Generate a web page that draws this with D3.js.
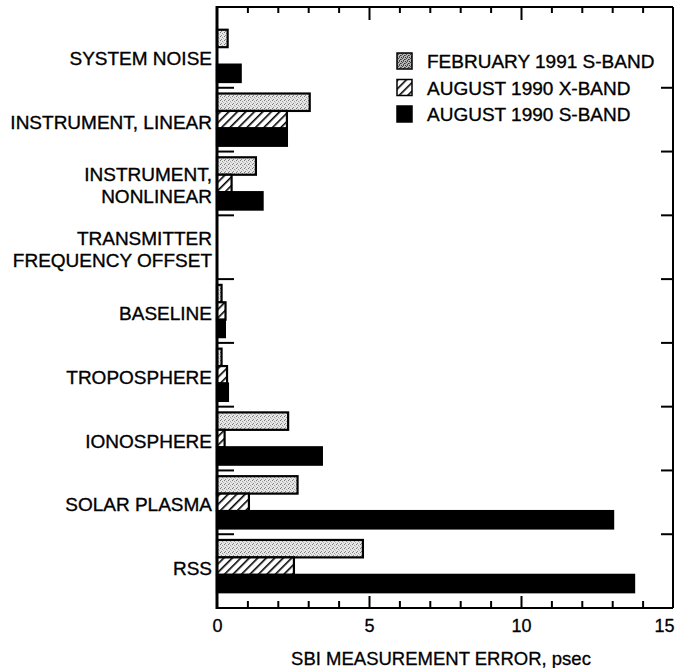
<!DOCTYPE html>
<html>
<head>
<meta charset="utf-8">
<script src="https://cdn.jsdelivr.net/npm/d3@7"></script>
<style>
  html, body { margin: 0; padding: 0; background: #fff; }
  svg { display: block; font-family: "Liberation Sans", Arial, Helvetica, sans-serif; }
</style>
</head>
<body>
<svg id="chart" width="676" height="668"></svg>
<script>
// Error sources (top to bottom) and their label lines
const categories = [
  "SYSTEM NOISE", "INSTRUMENT, LINEAR", "INSTRUMENT, NONLINEAR",
  "TRANSMITTER FREQUENCY OFFSET", "BASELINE", "TROPOSPHERE",
  "IONOSPHERE", "SOLAR PLASMA", "RSS"
];
const categoryLines = [
  ["SYSTEM NOISE"], ["INSTRUMENT, LINEAR"], ["INSTRUMENT,", "NONLINEAR"],
  ["TRANSMITTER", "FREQUENCY OFFSET"], ["BASELINE"], ["TROPOSPHERE"],
  ["IONOSPHERE"], ["SOLAR PLASMA"], ["RSS"]
];

// SBI measurement error, psec
const seriesNames = ["FEBRUARY 1991 S-BAND", "AUGUST 1990 X-BAND", "AUGUST 1990 S-BAND"];
const feb1991SBand = [0.35, 3.05, 1.28, 0, 0.15, 0.15, 2.34, 2.65, 4.80];
const aug1990XBand = [0, 2.30, 0.48, 0, 0.28, 0.33, 0.25, 1.05, 2.53];
const aug1990SBand = [0.78, 2.30, 1.50, 0, 0.26, 0.36, 3.45, 13.03, 13.72];

const xTickLabels = [0, 5, 10, 15];
const xTitle = "SBI MEASUREMENT ERROR, psec";

const seriesValues = [feb1991SBand, aug1990XBand, aug1990SBand];
const seriesKeys = ["feb", "augx", "augs"];

const svg = d3.select("#chart");
const frame = { left: 217, right: 673, top: 7, bottom: 608 };

const x = d3.scaleLinear().domain([0, 15]).range([frame.left, frame.right]);
const y = d3.scaleBand().domain(categories).range([24, 598])
  .paddingInner(0.18).paddingOuter(0.09);
const ySub = d3.scaleBand().domain(seriesKeys).range([0, y.bandwidth()]);

// Fill patterns: light stipple for bars, darker stipple for the key, diagonal hatch
const defs = svg.append("defs");
function stipplePattern(id, bg, dots) {
  const p = defs.append("pattern").attr("id", id)
    .attr("patternUnits", "userSpaceOnUse").attr("width", 4).attr("height", 4);
  p.append("rect").attr("width", 4).attr("height", 4).attr("fill", bg);
  dots.forEach(([dx, dy, c]) => p.append("rect").attr("x", dx).attr("y", dy)
    .attr("width", 1).attr("height", 1).attr("fill", c));
}
stipplePattern("stipple", "#e6e6e6", [[0, 0, "#777"], [2, 1, "#999"], [1, 3, "#888"], [3, 2, "#bbb"]]);
stipplePattern("stippleDark", "#b4b4b4", [[0, 0, "#333"], [2, 0, "#555"], [1, 1, "#444"], [3, 2, "#333"], [0, 2, "#666"], [2, 3, "#444"]]);

const hatch = defs.append("pattern").attr("id", "hatch")
  .attr("patternUnits", "userSpaceOnUse").attr("width", 6).attr("height", 6)
  .attr("patternTransform", "rotate(45)");
hatch.append("rect").attr("width", 6).attr("height", 6).attr("fill", "#fff");
hatch.append("line").attr("x1", 0).attr("y1", 0).attr("x2", 0).attr("y2", 6)
  .attr("stroke", "#000").attr("stroke-width", 3.2);

const fills = { feb: "url(#stipple)", augx: "url(#hatch)", augs: "#000" };
const legendFills = { feb: "url(#stippleDark)", augx: "url(#hatch)", augs: "#000" };

// Bars
const bars = [];
categories.forEach((c, i) => {
  seriesKeys.forEach((k, j) => {
    bars.push({ cat: c, key: k, value: seriesValues[j][i] });
  });
});

svg.append("g").selectAll("rect")
  .data(bars.filter(d => d.value > 0))
  .join("rect")
  .attr("x", x(0))
  .attr("y", d => y(d.cat) + ySub(d.key))
  .attr("width", d => x(d.value) - x(0))
  .attr("height", ySub.bandwidth())
  .attr("fill", d => fills[d.key])
  .attr("stroke", "#000")
  .attr("stroke-width", 2.2);

// Frame
const g = svg.append("g").attr("stroke", "#000").attr("fill", "none");
g.append("line").attr("x1", frame.left).attr("x2", frame.right)
  .attr("y1", frame.top).attr("y2", frame.top).attr("stroke-width", 2);
g.append("line").attr("x1", frame.left).attr("x2", frame.right)
  .attr("y1", frame.bottom).attr("y2", frame.bottom).attr("stroke-width", 2);
g.append("line").attr("x1", frame.right).attr("x2", frame.right)
  .attr("y1", frame.top).attr("y2", frame.bottom).attr("stroke-width", 2);
g.append("line").attr("x1", frame.left).attr("x2", frame.left)
  .attr("y1", frame.top - 1).attr("y2", frame.bottom + 1).attr("stroke-width", 3);

// Category separators: ticks on the left and right edges
const boundaries = categories.slice(1).map(c => y(c) - y.step() * y.paddingInner() / 2);
g.selectAll("line.lt").data(boundaries).join("line").attr("class", "lt")
  .attr("x1", frame.left).attr("x2", frame.left + 17)
  .attr("y1", d => d).attr("y2", d => d).attr("stroke-width", 2);
g.selectAll("line.rt").data(boundaries).join("line").attr("class", "rt")
  .attr("x1", frame.right - 12).attr("x2", frame.right)
  .attr("y1", d => d).attr("y2", d => d).attr("stroke-width", 2);

// Value axes (bottom with labels, top ticks only)
const minorTicks = d3.range(1, 15).filter(v => v % 5 !== 0);
const majorTicks = [5, 10];

function styleAxis(sel) {
  sel.select(".domain").remove();
  sel.selectAll(".tick line").attr("stroke", "#000").attr("stroke-width", 2);
}

svg.append("g").attr("transform", `translate(0,${frame.bottom})`)
  .call(d3.axisBottom(x).tickValues(minorTicks).tickSize(-7).tickFormat(""))
  .call(styleAxis);
svg.append("g").attr("transform", `translate(0,${frame.bottom})`)
  .call(d3.axisBottom(x).tickValues(majorTicks).tickSize(-12).tickFormat(""))
  .call(styleAxis);
svg.append("g").attr("transform", `translate(0,${frame.bottom})`)
  .call(d3.axisBottom(x).tickValues(xTickLabels).tickSize(0).tickPadding(11).tickFormat(d3.format("d")))
  .call(styleAxis)
  .call(a => a.selectAll("text").attr("font-size", 18).attr("fill", "#000")
    .attr("stroke", "#000").attr("stroke-width", 0.3)
    .attr("font-family", "'Liberation Sans', Arial, sans-serif"))
  // the last label sits flush against the page edge
  .call(a => a.selectAll(".tick").filter(d => d === 15).select("text")
    .attr("text-anchor", "end").attr("x", 1));

svg.append("g").attr("transform", `translate(0,${frame.top})`)
  .call(d3.axisTop(x).tickValues(minorTicks).tickSize(-6).tickFormat(""))
  .call(styleAxis);
svg.append("g").attr("transform", `translate(0,${frame.top})`)
  .call(d3.axisTop(x).tickValues(majorTicks).tickSize(-13).tickFormat(""))
  .call(styleAxis);

// Axis title
svg.append("text")
  .attr("x", (frame.left + frame.right) / 2 - 4)
  .attr("y", 665)
  .attr("text-anchor", "middle")
  .attr("font-size", 18.5)
  .attr("fill", "#000")
  .attr("stroke", "#000").attr("stroke-width", 0.3)
  .text(xTitle);

// Category labels
const lineGap = 22;
svg.append("g").selectAll("text")
  .data(categories)
  .join("text")
  .attr("text-anchor", "end")
  .attr("font-size", 19)
  .attr("fill", "#000")
  .attr("stroke", "#000").attr("stroke-width", 0.35)
  .each(function (c, i) {
    const lines = categoryLines[i];
    const cy = y(c) + y.bandwidth() / 2 + 2;
    const first = cy - (lines.length - 1) * lineGap / 2;
    d3.select(this).selectAll("tspan").data(lines).join("tspan")
      .attr("x", 212)
      .attr("y", (l, k) => first + k * lineGap + 7)
      .text(l => l);
  });

// Legend
const legend = svg.append("g").attr("transform", "translate(397,53)");
const item = legend.selectAll("g").data(seriesKeys).join("g")
  .attr("transform", (d, i) => `translate(0,${i * 26.5})`);
item.append("rect").attr("width", 15).attr("height", 16)
  .attr("fill", d => legendFills[d]).attr("stroke", "#000").attr("stroke-width", 1.5);
item.append("text").attr("x", 30).attr("y", 15)
  .attr("font-size", 19).attr("fill", "#000")
  .attr("stroke", "#000").attr("stroke-width", 0.35)
  .text((d, i) => seriesNames[i]);
</script>
</body>
</html>
